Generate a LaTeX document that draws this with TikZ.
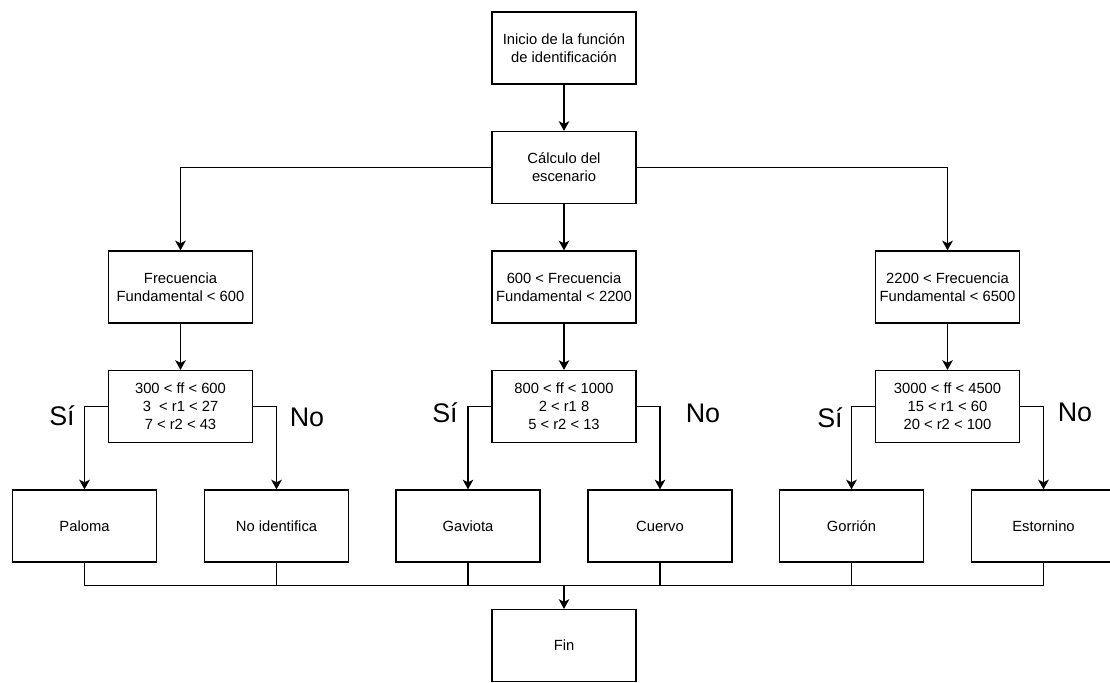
\documentclass[tikz,border=0pt]{standalone}
\usepackage{fontspec}
\setmainfont{Liberation Sans}
\usepackage{tikz}
\usetikzlibrary{positioning, arrows.meta}

\begin{document}
\begin{tikzpicture}[->,>={Stealth[length=5.5pt,width=6pt,inset=1.5pt]},line width=0.7pt,node distance=2.39cm]
\tikzstyle{every node}=[font=\fontsize{8.4}{10.2}\selectfont]
\tikzstyle{box}=[rectangle,draw=black,fill=white,text=black,minimum width=2.88cm,minimum height=1.44cm,align=center,inner sep=1pt]
\tikzstyle{answer}=[font=\fontsize{15.3}{18}\selectfont]
\useasboundingbox (0,0) rectangle (22.2,-13.64);

\node[box] (inicio) at (11.28,-0.96) {Inicio de la función\\de identificación};
\node[box] (calculo) [below of=inicio] {Cálculo del\\escenario};
\node[box] (rango2) [below of=calculo] {600 < Frecuencia\\Fundamental < 2200};
\node[box] (rango1) [left of=rango2, node distance=7.67cm] {Frecuencia\\Fundamental < 600};
\node[box] (rango3) [right of=rango2, node distance=7.67cm] {2200 < Frecuencia\\Fundamental < 6500};
\node[box] (cond1) [below of=rango1] {300 < ff < 600\\3~~< r1 < 27\\7 < r2 < 43};
\node[box] (cond2) [below of=rango2] {800 < ff < 1000\\2 < r1 8\\5 < r2 < 13};
\node[box] (cond3) [below of=rango3] {3000 < ff < 4500\\15 < r1 < 60\\20 < r2 < 100};
\node[box] (paloma) [below of=cond1, xshift=-1.92cm] {Paloma};
\node[box] (noid) [below of=cond1, xshift=1.92cm] {No identifica};
\node[box] (gaviota) [below of=cond2, xshift=-1.92cm] {Gaviota};
\node[box] (cuervo) [below of=cond2, xshift=1.92cm] {Cuervo};
\node[box] (gorrion) [below of=cond3, xshift=-1.92cm] {Gorrión};
\node[box] (estornino) [below of=cond3, xshift=1.92cm] {Estornino};
\node[box] (fin) [below of=cond2, node distance=4.78cm] {Fin};
\coordinate[above of=fin, node distance=1.195cm] (union);

\node[answer] (si1) at (1.24,-8.32) {Sí};
\node[answer] (no1) at (6.14,-8.34) {No};
\node[answer] (si2) at (8.90,-8.26) {Sí};
\node[answer] (no2) at (14.06,-8.26) {No};
\node[answer] (si3) at (16.60,-8.36) {Sí};
\node[answer] (no3) at (21.50,-8.24) {No};

\path
(inicio) edge (calculo)
(calculo) edge (rango2)
(rango1) edge (cond1)
(rango2) edge (cond2)
(rango3) edge (cond3);

\draw (calculo) -| (rango1);
\draw (calculo) -| (rango3);
\draw (cond1) -| (paloma);
\draw (cond1) -| (noid);
\draw (cond2) -| (gaviota);
\draw (cond2) -| (cuervo);
\draw (cond3) -| (gorrion);
\draw (cond3) -| (estornino);

% salidas hacia el fin
\draw[-] (paloma.south) -- (paloma.south |- union) -- (estornino.south |- union) -- (estornino.south);
\foreach \ave in {noid, gaviota, cuervo, gorrion}
  \draw[-] (\ave.south) -- (\ave.south |- union);
\draw (union) -- (fin);
\end{tikzpicture}
\end{document}
